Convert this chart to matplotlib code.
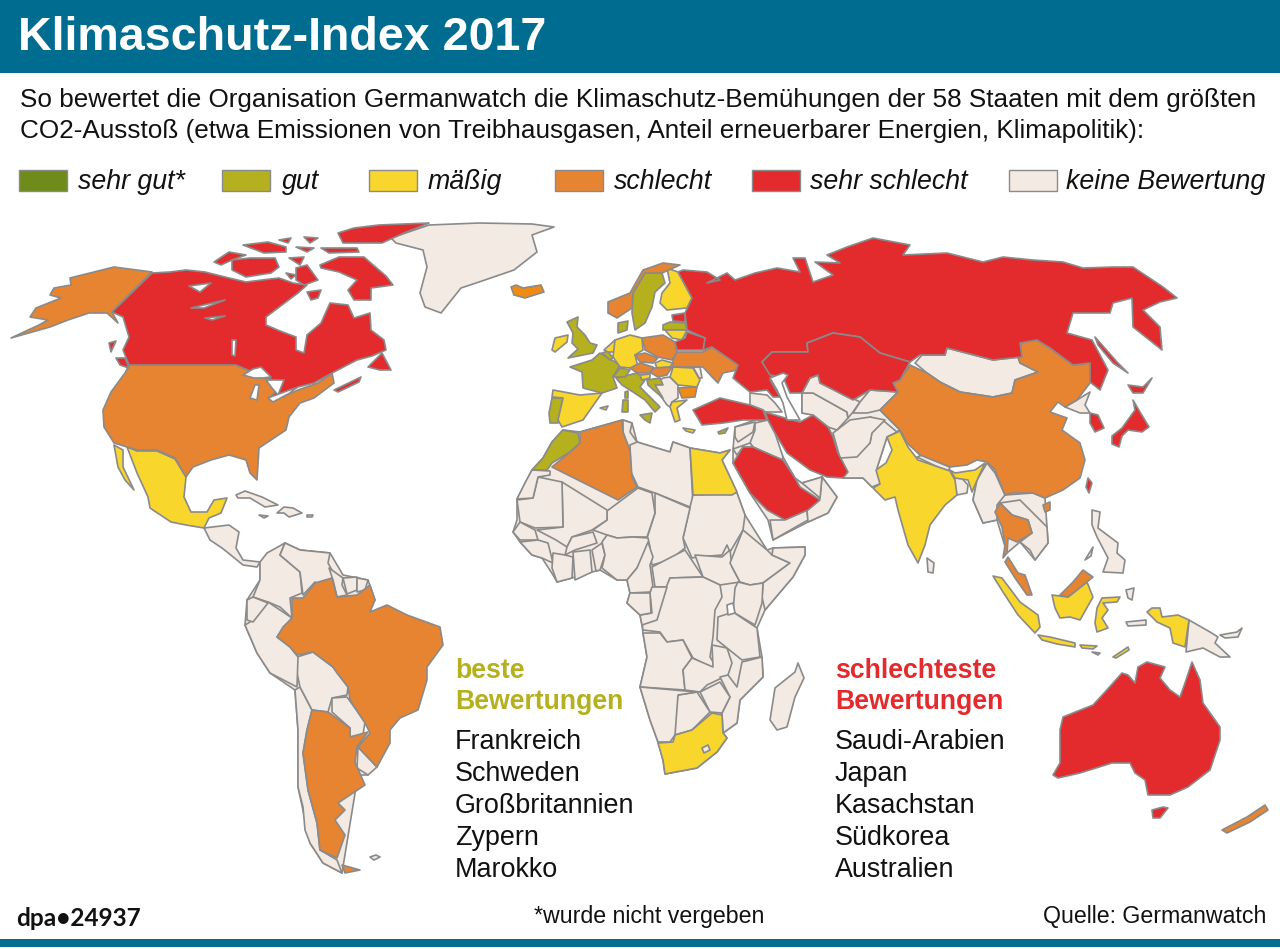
####################################################################################
# Imports
import matplotlib
matplotlib.use("Agg")
import matplotlib.pyplot as plt
import matplotlib.patches as pat

####################################################################################
# Text and legend data

title = "Klimaschutz-Index 2017"
intro = ["So bewertet die Organisation Germanwatch die Klimaschutz-Bemühungen der 58 Staaten mit dem größten",
         "CO2-Ausstoß (etwa Emissionen von Treibhausgasen, Anteil erneuerbarer Energien, Klimapolitik):"]
legend_labels = ["sehr gut*", "gut", "mäßig", "schlecht", "sehr schlecht", "keine Bewertung"]
best_heading = ["beste", "Bewertungen"]
best_countries = ["Frankreich", "Schweden", "Großbritannien", "Zypern", "Marokko"]
worst_heading = ["schlechteste", "Bewertungen"]
worst_countries = ["Saudi-Arabien", "Japan", "Kasachstan", "Südkorea", "Australien"]

####################################################################################
# Outlines (image pixels)

# North America
alaska = [(152,272),(112,312),(118,323),(107,313),(89,313),(68,320),(50,327),(11,338),(39,325),(48,320),(30,317),(36,308),(61,298),(50,295),(54,288),(71,285),(70,278),(114,267)]
canada = [(152,273),(170,272),(186,270),(205,272),(229,278),(246,282),(262,280),(279,278),(293,283),(307,285),(298,293),(282,305),(266,317),(266,325),(280,331),(296,337),(296,350),(304,353),(307,335),(321,323),(330,303),(348,305),(354,318),(370,313),(371,330),(384,340),(386,350),(372,356),(357,360),(332,373),(314,383),(298,387),(282,397),(271,397),(282,383),(264,377),(250,371),(236,365),(129,365),(123,350),(129,337),(123,317),(112,312)]
baffin = [(320,265),(339,257),(364,257),(372,264),(379,270),(386,276),(393,285),(371,288),(371,300),(354,300),(348,290),(357,280),(339,272),(321,268)]
victoria = [(232,260),(250,258),(275,258),(279,267),(271,273),(246,277),(232,270)]
banks = [(214,262),(229,252),(246,255),(232,260),(221,265)]
southampton = [(307,292),(321,290),(318,298),(311,300)]
ellesmere = [(354,228),(379,225),(429,223),(404,233),(382,243),(343,243),(338,233)]
devon = [(321,248),(357,248),(359,252),(329,253)]
melville = [(243,245),(268,242),(286,247),(286,252),(264,253)]
somerset = [(289,258),(304,257),(300,265)]
boothia = [(296,268),(307,265),(318,280),(304,285),(296,280)]
arctic_a = [(279,240),(291,238),(288,243)]
arctic_b = [(304,237),(318,238),(310,243)]
arctic_c = [(296,247),(314,248),(307,252)]
arctic_d = [(286,273),(296,275),(291,279)]
newfoundland = [(368,367),(382,353),(391,370),(380,370)]
nova_scotia = [(334,390),(361,377),(359,382),(338,392)]
vancouver = [(116,358),(125,358),(129,368),(120,365)]
charlotte = [(109,343),(116,341),(111,352)]
usa = [(129,365),(236,365),(250,371),(264,377),(282,383),(271,397),(282,397),(298,390),(318,383),(332,373),(334,383),(314,398),(300,403),(289,417),(286,430),(271,440),(259,448),(257,480),(250,473),(246,460),(229,455),(211,460),(193,467),(186,477),(175,458),(157,450),(137,450),(114,443),(104,427),(103,410),(111,392),(125,373)]
mexico = [(127,447),(137,451),(157,451),(175,459),(186,477),(184,497),(191,512),(207,512),(214,500),(227,498),(221,513),(209,518),(204,528),(186,525),(171,522),(150,508),(148,497),(137,473)]
baja = [(114,445),(123,450),(123,467),(134,490),(125,480),(118,467)]
greenland = [(391,238),(429,225),(479,223),(532,224),(554,227),(532,235),(537,252),(514,270),(479,282),(461,288),(441,313),(425,307),(420,293),(427,267),(423,250),(396,243)]
cuba = [(236,495),(245,491),(262,497),(278,505),(265,507),(250,498),(238,498)]
hispaniola = [(277,513),(284,507),(293,508),(302,513),(289,517),(284,513)]
jamaica = [(259,515),(268,516),(264,518)]
puerto_rico = [(307,515),(313,515),(312,517),(307,517)]
central_america = [(204,528),(229,525),(239,532),(236,548),(243,560),(260,562),(257,567),(243,565),(232,556),(222,548),(210,540)]

# South America
south_america_base = [(247,600),(260,580),(260,562),(285,543),(300,550),(330,553),(343,575),(368,580),(375,600),(337,640),(350,737),(368,775),(358,775),(342,873),(323,863),(310,843),(298,787),(298,730),(295,690),(270,673),(257,653),(245,625)]
colombia = [(285,543),(280,555),(300,572),(302,593),(290,598),(292,618),(280,607),(268,602),(253,597),(260,580),(260,562),(267,553)]
venezuela = [(285,543),(300,550),(330,553),(328,563),(333,572),(338,585),(334,592),(315,582),(303,595),(300,572),(280,555)]
guyana = [(329,568),(343,578),(342,585),(347,595),(337,597),(333,580)]
suriname = [(343,578),(357,577),(357,590),(347,594)]
guiana = [(357,578),(368,580),(365,590),(357,592)]
brazil = [(332,578),(337,597),(357,595),(370,585),(375,600),(370,612),(387,605),(407,615),(440,627),(443,645),(427,667),(427,680),(418,710),(400,718),(390,730),(390,743),(377,767),(358,747),(370,733),(365,723),(350,700),(348,687),(337,673),(333,667),(313,652),(297,655),(290,647),(277,637),(283,627),(292,618),(292,598),(303,598),(315,583)]
argentina = [(312,710),(328,712),(350,728),(350,737),(368,732),(357,747),(355,762),(365,785),(347,797),(338,803),(345,810),(335,820),(345,835),(337,858),(320,850),(317,823),(308,790),(303,753),(307,730)]
fuego = [(342,865),(360,870),(345,873)]
chile = [(295,690),(300,687),(312,710),(307,730),(303,753),(308,790),(317,823),(320,850),(337,860),(342,873),(323,863),(310,843),(305,830),(303,807),(298,787),(298,730)]
bolivia = [(297,657),(313,652),(333,667),(348,687),(347,695),(332,698),(328,712),(312,710),(300,687),(297,673)]
paraguay = [(332,698),(347,697),(365,722),(363,735),(350,737),(350,728),(332,712)]
uruguay = [(358,747),(377,767),(368,775),(357,768)]
peru = [(268,602),(292,618),(277,637),(290,647),(298,657),(297,687),(270,673),(257,653),(245,625),(250,622)]
ecuador = [(247,600),(253,597),(268,603),(253,622),(247,620)]
falkland = [(370,857),(376,855),(380,857),(374,860)]

# Africa
africa_base = [(532,470),(517,499),(517,520),(513,532),(520,542),(532,555),(542,558),(553,575),(557,582),(572,578),(592,572),(600,570),(617,580),(627,580),(630,593),(627,603),(640,615),(642,625),(643,633),(647,657),(640,687),(650,720),(658,742),(663,760),(665,774),(697,768),(717,752),(727,738),(723,733),(737,723),(740,700),(763,677),(762,657),(757,628),(765,610),(793,577),(805,555),(805,547),(773,548),(767,550),(745,515),(737,493),(722,460),(730,450),(720,453),(690,448),(673,442),(670,452),(637,442),(632,423),(623,420),(580,432),(563,430),(552,442),(543,458)]
morocco = [(563,430),(578,433),(580,443),(570,452),(552,463),(547,470),(532,470),(543,458),(552,442)]
algeria = [(580,432),(622,420),(623,432),(630,450),(632,477),(637,487),(618,500),(552,467),(570,452),(580,443)]
tunisia = [(623,420),(632,423),(630,432),(637,442),(628,450),(623,432)]
libya = [(630,445),(637,442),(670,452),(673,442),(690,448),(693,505),(690,507),(655,493),(638,487),(631,472)]
egypt = [(690,448),(720,453),(730,450),(722,460),(737,492),(732,495),(693,495)]
sudan = [(693,495),(737,493),(745,515),(743,530),(730,552),(727,545),(722,555),(697,557),(692,558),(683,538),(690,507)]
chad = [(655,493),(690,508),(683,538),(685,548),(670,560),(652,565),(647,538),(655,513)]
niger = [(607,511),(638,488),(652,493),(655,513),(647,537),(633,537),(617,538),(607,535),(593,530),(607,520)]
mali = [(562,482),(607,510),(607,520),(592,530),(572,537),(567,547),(556,540),(537,530),(563,527)]
mauritania = [(538,477),(562,482),(563,527),(535,528),(520,522),(517,500),(533,498)]
west_sahara = [(532,470),(550,471),(550,475),(538,477),(533,498),(517,499),(525,483)]
senegal = [(520,522),(535,530),(538,540),(520,540),(513,532)]
guinea = [(520,542),(538,540),(548,543),(553,563),(542,558),(532,555)]
ivory_coast = [(553,553),(565,555),(573,557),(572,578),(557,582),(552,568)]
burkina = [(567,547),(572,537),(593,532),(597,543),(575,550),(565,555)]
ghana = [(573,552),(590,550),(592,572),(575,580)]
benin = [(592,550),(602,543),(605,555),(600,570),(596,571)]
nigeria = [(602,542),(607,535),(617,538),(633,537),(648,538),(650,547),(637,568),(627,580),(617,580),(602,568),(605,555)]
cameroon = [(648,542),(653,557),(650,565),(653,587),(650,592),(630,593),(627,580),(637,568)]
car = [(652,567),(685,550),(703,577),(670,578),(667,587),(655,587)]
south_sudan = [(695,555),(722,557),(730,550),(732,567),(740,582),(720,585),(703,577)]
ethiopia = [(743,530),(767,550),(772,555),(790,563),(763,583),(750,585),(740,582),(730,563)]
somalia = [(773,548),(805,547),(805,555),(793,577),(765,610),(762,597),(763,583),(790,563),(772,555)]
kenya = [(738,582),(750,585),(763,583),(762,603),(755,625),(733,612),(735,588)]
drc = [(670,578),(703,577),(720,585),(722,597),(715,610),(713,637),(710,657),(717,668),(710,667),(693,658),(683,640),(667,642),(660,632),(643,630),(642,622),(655,620),(665,590)]
congo = [(652,587),(667,587),(657,620),(642,625),(640,615),(652,613),(650,593)]
gabon = [(630,593),(650,593),(651,613),(640,615),(627,603)]
angola = [(643,633),(660,633),(667,642),(683,640),(692,658),(683,670),(685,690),(640,687),(647,657)]
zambia = [(692,658),(713,667),(712,645),(727,648),(732,663),(728,675),(707,685),(700,692),(685,690),(683,670)]
tanzania = [(718,617),(733,612),(757,628),(760,657),(742,660),(727,648),(717,640)]
mozambique = [(742,662),(762,657),(763,677),(740,700),(737,723),(723,733),(722,713),(730,697),(720,677),(728,675),(737,687)]
zimbabwe = [(700,692),(720,682),(730,697),(722,713),(710,712)]
botswana = [(678,695),(697,692),(710,712),(692,730),(675,735),(673,712)]
namibia = [(640,687),(697,692),(678,695),(675,735),(670,742),(658,742),(650,720)]
south_africa = [(658,743),(673,742),(675,735),(692,730),(712,713),(722,715),(723,733),(727,738),(717,752),(697,768),(665,774),(663,760)]
lesotho = [(702,748),(708,745),(710,750),(704,753)]
madagascar = [(798,663),(804,678),(795,697),(787,727),(777,730),(770,720),(775,688),(795,672)]

# Europe
uk = [(567,322),(578,317),(577,327),(585,335),(590,343),(597,345),(593,353),(568,358),(578,349),(572,343),(573,333)]
ireland = [(555,338),(568,335),(567,342),(555,352),(552,350)]
iceland = [(511,287),(516,285),(523,288),(541,285),(544,292),(525,298),(514,295)]
france = [(570,367),(592,360),(600,353),(620,365),(613,377),(617,388),(602,393),(583,388),(582,372)]
netherlands = [(604,350),(615,340),(615,352),(608,352)]
belgium = [(602,353),(608,351),(613,358),(610,360)]
germany = [(615,340),(630,335),(642,338),(643,350),(635,355),(638,367),(630,368),(620,367),(613,357)]
denmark = [(618,333),(618,323),(628,321),(627,330)]
sweden = [(633,293),(645,273),(662,273),(665,283),(655,292),(652,307),(645,323),(635,330),(632,313)]
norway = [(608,302),(630,293),(643,270),(663,263),(680,265),(662,273),(645,273),(633,293),(632,308),(617,318),(608,313)]
finland = [(667,268),(678,272),(692,298),(687,308),(667,310),(660,303),(662,293),(670,283)]
estonia = [(672,315),(685,313),(685,322),(673,321)]
latvia = [(663,325),(670,322),(685,323),(687,330),(663,330)]
lithuania = [(665,330),(687,330),(682,340),(672,338)]
belarus = [(687,332),(705,338),(703,350),(677,350),(675,342),(685,338)]
poland = [(642,338),(663,335),(675,342),(677,353),(672,360),(658,357),(645,350)]
ukraine = [(677,352),(703,352),(712,347),(730,358),(738,365),(737,370),(723,373),(718,383),(713,378),(703,367),(693,367),(673,367),(673,360)]
czech = [(635,355),(645,353),(658,358),(653,363),(640,362)]
slovakia = [(655,363),(662,360),(673,363),(670,367),(657,368)]
austria = [(630,368),(640,363),(653,367),(650,373),(637,373)]
hungary = [(653,368),(672,367),(667,375),(658,377),(651,373)]
romania = [(673,367),(693,368),(700,380),(697,387),(678,385),(670,377)]
moldova = [(693,367),(700,367),(702,378),(699,378)]
bulgaria = [(678,388),(697,387),(695,397),(682,398)]
greece = [(672,402),(687,400),(677,408),(680,420),(675,422),(670,407)]
italy = [(616,378),(637,373),(645,380),(640,387),(660,407),(655,412),(645,400),(633,392),(622,385)]
switzerland = [(613,377),(620,368),(630,370),(625,377)]
slovenia = [(640,375),(650,374),(650,378),(642,380)]
croatia = [(647,380),(660,378),(663,385),(655,385),(663,398),(657,393),(648,385)]
balkans = [(655,385),(663,378),(670,377),(678,385),(678,398),(672,402),(670,407),(667,405),(655,388)]
spain = [(553,390),(580,395),(602,393),(590,410),(583,420),(562,427),(558,420),(563,398),(552,397)]
portugal = [(552,398),(563,398),(558,423),(550,423),(549,413)]
corsica = [(625,392),(628,391),(628,398),(625,398)]
sardinia = [(623,400),(628,400),(628,412),(622,412)]
sicily = [(640,415),(652,413),(650,423),(645,420)]
mallorca = [(600,408),(608,406),(606,410)]
crete = [(683,428),(695,430),(693,433),(686,431)]
cyprus = [(718,432),(728,428),(725,433),(719,434)]

# Russia and Asia
russia = [(683,270),(707,272),(720,280),(707,283),(727,273),(735,280),(755,273),(777,268),(800,272),(793,258),(805,258),(813,282),(833,275),(815,262),(840,263),(827,255),(847,247),(873,238),(910,245),(903,255),(947,253),(983,262),(1003,257),(1033,260),(1063,262),(1083,268),(1113,267),(1133,267),(1163,287),(1177,298),(1160,302),(1143,310),(1160,327),(1162,350),(1133,327),(1132,298),(1113,303),(1110,313),(1073,313),(1067,333),(1092,340),(1108,370),(1100,390),(1090,382),(1090,363),(1073,365),(1050,348),(1037,340),(1020,343),(1022,357),(993,360),(947,348),(945,355),(920,355),(910,362),(880,353),(860,337),(833,333),(807,343),(808,352),(772,352),(762,362),(773,373),(770,380),(780,397),(773,397),(767,390),(750,392),(733,378),(738,365),(712,347),(703,350),(705,338),(687,330),(685,313),(692,298),(678,272)]
sakhalin = [(1095,337),(1117,362),(1128,373),(1113,363),(1098,345)]
kazakhstan = [(762,362),(772,352),(808,352),(807,343),(833,333),(860,337),(880,353),(910,362),(900,380),(893,383),(898,392),(870,390),(853,400),(820,383),(818,375),(810,378),(802,393),(790,393),(783,377),(770,375)]
mongolia = [(915,363),(922,355),(945,355),(947,348),(993,360),(1018,357),(1020,363),(1038,372),(1015,380),(1012,393),(993,397),(960,392),(940,382),(927,373)]
china = [(910,365),(927,373),(940,382),(960,392),(993,397),(1012,393),(1015,380),(1038,372),(1020,363),(1018,357),(1022,342),(1037,340),(1050,348),(1073,365),(1090,363),(1090,383),(1077,400),(1065,407),(1058,402),(1050,412),(1067,418),(1062,430),(1080,443),(1085,460),(1080,478),(1063,490),(1045,498),(1033,493),(1012,493),(1005,495),(995,470),(987,462),(977,460),(967,465),(950,467),(920,455),(907,443),(900,430),(880,410),(897,393),(893,383),(900,380)]
hainan = [(1043,505),(1050,502),(1050,510),(1045,512)]
taiwan = [(1088,478),(1092,483),(1089,493),(1086,487)]
south_korea = [(1090,413),(1098,415),(1104,428),(1095,432),(1090,423)]
north_korea = [(1077,400),(1090,392),(1085,405),(1090,413),(1080,413),(1065,407)]
honshu = [(1133,400),(1140,412),(1149,427),(1142,432),(1128,430),(1122,436),(1119,447),(1112,444),(1112,436),(1122,428),(1130,417),(1135,410)]
hokkaido = [(1128,385),(1143,387),(1152,378),(1143,393),(1133,393)]
turkey = [(693,410),(720,398),(750,405),(763,410),(767,420),(743,420),(723,423),(702,425)]
iran = [(765,412),(785,418),(800,422),(813,415),(828,427),(833,437),(838,453),(848,472),(843,478),(827,477),(810,470),(787,453),(775,433),(768,420)]
saudi = [(743,447),(753,447),(783,460),(795,478),(800,487),(820,500),(808,510),(785,520),(767,510),(750,493),(733,463)]
india = [(887,437),(900,431),(908,447),(918,460),(950,471),(955,480),(957,495),(945,505),(930,525),(925,545),(918,563),(908,545),(898,510),(895,497),(885,500),(873,488),(880,484),(876,470),(886,463),(892,450)]
india_east = [(950,470),(955,473),(975,470),(985,463),(978,478),(972,492),(968,480),(955,478)]
sri_lanka = [(927,558),(934,563),(933,573),(928,572)]
nepal = [(917,457),(922,455),(950,467),(948,472)]
bangladesh = [(952,475),(957,473),(968,485),(967,493),(957,495)]
middle_east_base = [(735,427),(755,420),(768,420),(783,457),(795,478),(802,483),(822,477),(837,497),(828,513),(808,522),(773,540),(768,520),(750,493),(733,463),(733,449)]
central_asia_base = [(802,393),(820,383),(853,400),(870,390),(898,392),(880,410),(900,430),(887,437),(877,468),(882,483),(872,487),(863,478),(843,478),(833,437),(828,427),(813,415),(802,413)]
indochina_base = [(973,500),(977,480),(987,463),(995,473),(1005,495),(1033,493),(1045,498),(1047,527),(1048,543),(1035,560),(1020,542),(1007,553),(997,520),(983,523)]
pakistan = [(840,457),(870,443),(872,430),(870,417),(885,422),(897,432),(887,437),(877,468),(882,483),(872,487),(863,478),(843,478),(847,472)]
afghanistan = [(833,433),(850,420),(870,417),(885,420),(872,433),(870,443),(857,457),(840,458)]
turkmenistan = [(802,393),(813,393),(847,412),(848,418),(837,430),(828,427),(813,415),(802,413)]
uzbekistan = [(810,378),(818,375),(820,383),(852,398),(860,402),(853,412),(848,418),(847,412),(813,393),(802,393)]
kyrgyzstan = [(860,402),(870,390),(898,392),(880,410),(867,413),(853,413)]
iraq = [(755,423),(768,420),(775,433),(783,457),(782,460),(753,447),(750,443),(755,430)]
syria = [(735,427),(755,422),(753,432),(738,442),(735,437)]
jordan = [(733,449),(750,443),(753,447),(743,447),(737,455)]
yemen = [(770,520),(783,520),(807,510),(808,520),(773,540)]
oman = [(820,498),(822,477),(837,497),(828,513),(808,522),(807,510)]
uae = [(802,483),(822,477),(820,498)]
caucasus = [(750,393),(767,395),(775,403),(782,412),(765,412),(763,410),(750,405)]
myanmar = [(987,463),(995,473),(1005,495),(997,505),(997,520),(983,523),(973,500),(977,480)]
thailand = [(995,512),(1000,503),(1012,515),(1028,520),(1032,533),(1017,542),(1008,538),(1007,553),(1003,558),(1005,545),(1002,527)]
malay = [(1008,557),(1018,573),(1025,575),(1032,595),(1027,595),(1015,578),(1005,562)]
indochina = [(1000,503),(1020,500),(1047,527),(1048,543),(1035,560),(1030,550),(1020,542),(1032,533),(1028,520),(1012,515)]
philippines = [(1092,510),(1100,512),(1098,528),(1118,543),(1117,553),(1125,560),(1123,573),(1103,572),(1108,558),(1097,537),(1092,525)]
palawan = [(1085,560),(1093,547),(1091,556)]
sumatra = [(993,576),(1002,578),(1020,602),(1038,615),(1040,627),(1035,633),(1018,615),(1003,592)]
java = [(1038,635),(1050,637),(1075,643),(1075,647),(1057,644),(1042,640)]
borneo = [(1052,595),(1068,597),(1087,582),(1093,597),(1080,620),(1070,617),(1060,618),(1055,608)]
sarawak = [(1060,595),(1073,582),(1083,570),(1093,577),(1087,582),(1068,597)]
sulawesi = [(1095,623),(1097,608),(1102,598),(1120,597),(1117,602),(1103,603),(1108,610),(1102,618),(1108,628),(1097,632)]
papua = [(1152,608),(1160,608),(1162,617),(1178,615),(1189,620),(1185,647),(1173,643),(1170,628),(1157,622),(1147,612)]
png = [(1189,620),(1210,632),(1218,637),(1215,643),(1230,657),(1220,657),(1203,648),(1186,652)]
new_britain = [(1220,635),(1237,632),(1242,628),(1238,637),(1225,638)]
timor = [(1113,657),(1128,647),(1129,650),(1116,658)]
flores = [(1080,645),(1097,646),(1093,649),(1082,648)]
lombok = [(1092,652),(1100,653),(1098,655)]
maluku = [(1126,590),(1134,588),(1132,600),(1128,598)]
seram = [(1126,622),(1146,620),(1146,625),(1128,626)]

# Australasia
australia = [(1053,775),(1060,763),(1060,730),(1063,717),(1093,705),(1105,692),(1122,673),(1128,675),(1135,683),(1138,667),(1147,662),(1165,667),(1160,678),(1170,690),(1180,697),(1185,683),(1192,662),(1200,680),(1203,703),(1220,727),(1220,740),(1210,770),(1188,787),(1170,795),(1148,795),(1145,780),(1135,773),(1130,763),(1112,763),(1080,773),(1058,778)]
tasmania = [(1152,810),(1163,807),(1168,808),(1160,818),(1153,818)]
new_zealand = [(1222,830),(1247,817),(1265,805),(1268,810),(1250,822),(1227,833)]

# Water drawn on top of land
caspian = [(770,378),(783,373),(788,375),(782,383),(787,397),(800,420),(787,420),(783,403),(777,390)]
superior = [(243,375),(253,369),(261,367),(271,377),(262,378),(254,378)]
michigan = [(250,398),(255,385),(259,385),(257,400)]
huron = [(266,380),(284,380),(278,395),(272,388)]
erie = [(268,398),(295,388),(290,393),(273,402)]
great_bear = [(189,286),(211,283),(200,292)]
great_slave = [(191,308),(225,300),(204,308)]
athabasca = [(205,318),(225,316),(212,320)]
winnipeg = [(232,340),(236,340),(235,356),(232,355)]
victoria_lake = [(727,605),(733,603),(735,613),(728,615)]

keine_shapes = [south_america_base, africa_base, middle_east_base, central_asia_base, indochina_base,
                greenland, cuba, hispaniola, jamaica, puerto_rico, central_america, colombia, venezuela, guyana, suriname, guiana, chile, bolivia, paraguay, uruguay, peru, ecuador, falkland,
                tunisia, libya, sudan, chad, niger, mali, mauritania, west_sahara, senegal, guinea, ivory_coast, burkina, ghana, benin, nigeria, cameroon, car, south_sudan, ethiopia, somalia, kenya, drc, congo, gabon, angola, zambia, tanzania, mozambique, zimbabwe, botswana, namibia, madagascar,
                moldova, balkans, mongolia, north_korea, nepal, bangladesh, pakistan, afghanistan, turkmenistan, uzbekistan, kyrgyzstan, iraq, syria, jordan, yemen, oman, uae, caucasus, myanmar, indochina, philippines, palawan, png, new_britain, maluku, seram, sri_lanka]
gut_shapes = [france, uk, sweden, morocco, portugal, denmark, belgium, latvia, italy, switzerland, croatia, corsica, sardinia, sicily, cyprus]
massig_shapes = [mexico, baja, ireland, netherlands, germany, finland, lithuania, slovakia, romania, slovenia, greece, spain, mallorca, crete, egypt, south_africa, india, india_east, sumatra, java, borneo, sulawesi, papua, timor, flores, lombok]
schlecht_shapes = [alaska, usa, brazil, argentina, fuego, algeria, norway, poland, ukraine, czech, austria, hungary, china, hainan, thailand, malay, sarawak, new_zealand]
schlecht_hell_shapes = [iceland, bulgaria]
sehr_schlecht_shapes = [canada, baffin, victoria, banks, southampton, ellesmere, devon, melville, somerset, boothia, arctic_a, arctic_b, arctic_c, arctic_d, newfoundland, nova_scotia, vancouver, charlotte,
                        russia, sakhalin, kazakhstan, estonia, belarus, taiwan, south_korea, honshu, hokkaido, turkey, iran, saudi, australia, tasmania]
water_shapes = [caspian, superior, michigan, huron, erie, great_bear, great_slave, athabasca, winnipeg, victoria_lake]

####################################################################################
# Styles

legend_cols = ['#6F8B1A', '#B5B01E', '#F9D62B', '#E68431', '#E32B2D', '#F3EBE3']
line_col = '#8A8A8A'
bar_col = '#006C8F'

plt.rcParams['font.family'] = ['Liberation Sans', 'DejaVu Sans']

####################################################################################
# Plot

fig = plt.figure(figsize=(12.8, 9.49), dpi=100)
ax = fig.add_axes([0, 0, 1, 1])
ax.set_xlim(0, 1280)
ax.set_ylim(949, 0)
ax.axis('off')

def draw_shapes(shapes, colour):
    for shape in shapes:
        xs, ys = zip(*shape)
        ax.fill(xs, ys, facecolor=colour, edgecolor=line_col, lw=1.2, joinstyle='round')

draw_shapes(keine_shapes, legend_cols[5])
draw_shapes(gut_shapes, legend_cols[1])
draw_shapes(massig_shapes, legend_cols[2])
draw_shapes(schlecht_shapes, legend_cols[3])
draw_shapes(schlecht_hell_shapes, '#F08A12')
draw_shapes(sehr_schlecht_shapes, legend_cols[4])
draw_shapes([lesotho], legend_cols[5])
draw_shapes(water_shapes, 'white')

# Header and footer bars
ax.add_patch(pat.Rectangle((0, 0), 1280, 73, facecolor=bar_col, edgecolor='none'))
ax.add_patch(pat.Rectangle((0, 939), 1280, 8, facecolor=bar_col, edgecolor='none'))
ax.text(18, 38, title, color='white', fontsize=33.6, fontweight='bold', va='center', ha='left')

ax.text(20, 100, intro[0], fontsize=18.83, va='center', ha='left', color='#111111')
ax.text(20, 131, intro[1], fontsize=18.83, va='center', ha='left', color='#111111')

# Legend
legend_box_x = [19, 222, 369, 555, 752, 1009]
legend_text_x = [78, 282, 428, 614, 810, 1066]
for i in range(len(legend_labels)):
    ax.add_patch(pat.Rectangle((legend_box_x[i], 170), 48, 21, facecolor=legend_cols[i], edgecolor=line_col, lw=1.0))
    ax.text(legend_text_x[i], 182, legend_labels[i], fontsize=19.3, style='italic', va='center', ha='left', color='#111111')

# Best and worst lists
for i in range(2):
    ax.text(455, 671 + i*31, best_heading[i], fontsize=19.2, fontweight='bold', color=legend_cols[1], va='center', ha='left')
    ax.text(835, 671 + i*31, worst_heading[i], fontsize=19.2, fontweight='bold', color=legend_cols[4], va='center', ha='left')
for i in range(5):
    ax.text(455, 742 + i*32, best_countries[i], fontsize=19.35, va='center', ha='left', color='#111111')
    ax.text(835, 742 + i*32, worst_countries[i], fontsize=19.35, va='center', ha='left', color='#111111')

# Footer
ax.text(16, 919, "dpa•24937", fontsize=17.6, fontweight='bold', family=['Lato', 'DejaVu Sans'], va='center', ha='left', color='#111111')
ax.text(649, 917, "*wurde nicht vergeben", fontsize=16.7, va='center', ha='center', color='#111111')
ax.text(1266, 917, "Quelle: Germanwatch", fontsize=16.7, va='center', ha='right', color='#111111')

fig.savefig('out.png', dpi=100)
